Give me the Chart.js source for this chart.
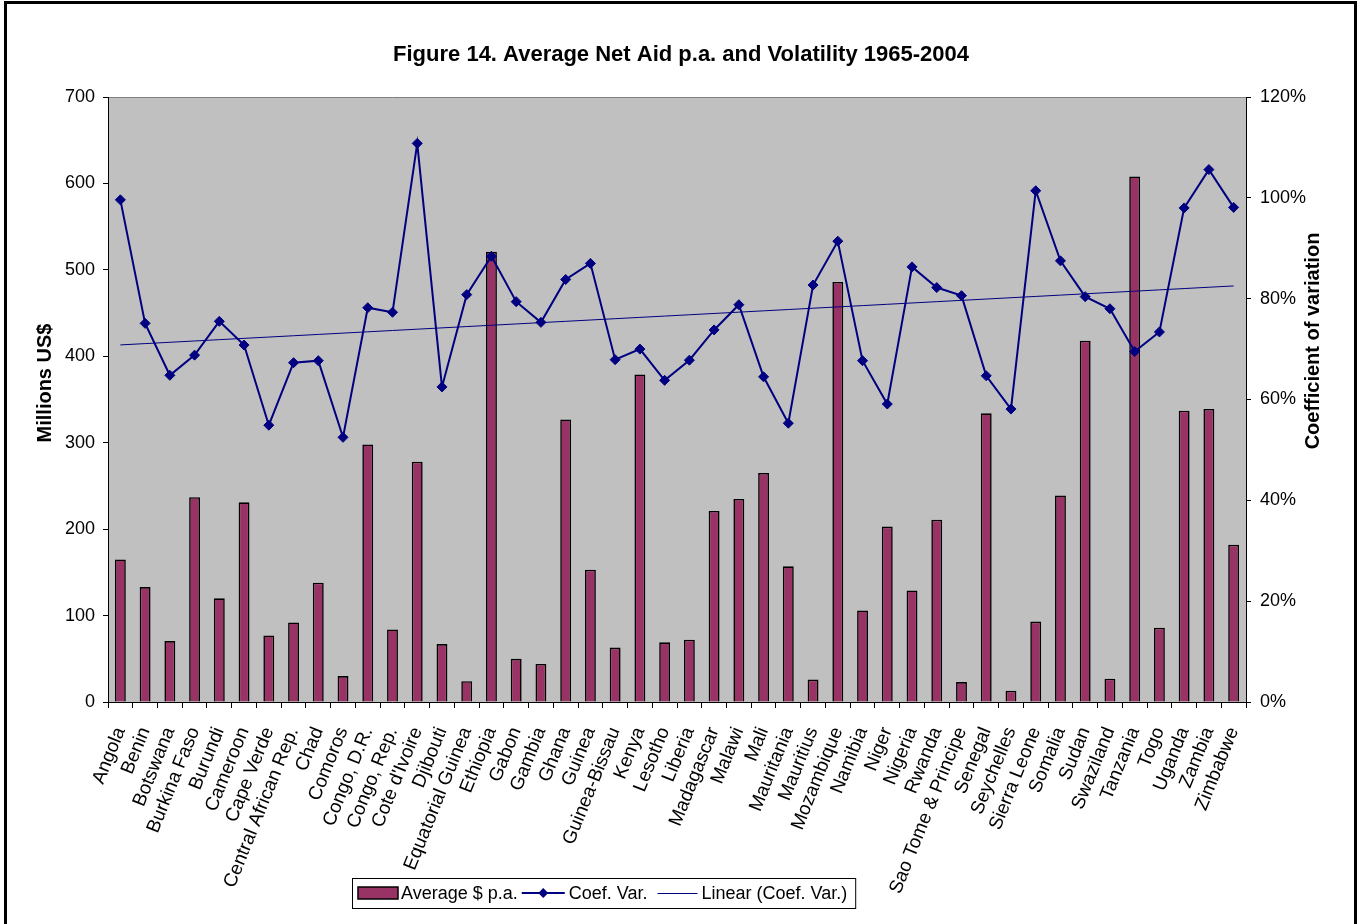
<!DOCTYPE html>
<html><head><meta charset="utf-8">
<script src="https://cdn.jsdelivr.net/npm/chart.js@4.4.1/dist/chart.umd.min.js"></script>
<style>
html,body{margin:0;padding:0;background:#fff;overflow:hidden;}
#wrap{position:relative;width:1362px;height:924px;}
canvas{position:absolute;left:0;top:0;}
#frame{position:absolute;left:4px;top:1px;width:1353px;height:1000px;border:3px solid #000;box-sizing:border-box;pointer-events:none;}
</style></head><body>
<div id="wrap"><canvas id="c" width="1362" height="924"></canvas><div id="frame"></div></div>
<script>
const countries = ["Angola","Benin","Botswana","Burkina Faso","Burundi","Cameroon","Cape Verde","Central African Rep.","Chad","Comoros","Congo, D.R.","Congo, Rep.","Cote d'Ivoire","Djibouti","Equatorial Guinea","Ethiopia","Gabon","Gambia","Ghana","Guinea","Guinea-Bissau","Kenya","Lesotho","Liberia","Madagascar","Malawi","Mali","Mauritania","Mauritius","Mozambique","Namibia","Niger","Nigeria","Rwanda","Sao Tome & Principe","Senegal","Seychelles","Sierra Leone","Somalia","Sudan","Swaziland","Tanzania","Togo","Uganda","Zambia","Zimbabwe"];
const averageAid = [165,133,70.5,237,120,231,77,92,138,30,298,84,278,67,24,521,50,44,327,153,63,379,69,72,221,235,265,157,26,486,106,203,129,211,23,334,13,93,239,418,27,608,86,337,339,182];
const coefVar = [99.6,75.1,64.8,68.8,75.5,70.8,54.9,67.3,67.7,52.5,78.2,77.3,110.8,62.5,80.8,88.4,79.4,75.3,83.8,87.0,67.9,70.0,63.8,67.8,73.8,78.8,64.5,55.3,82.7,91.4,67.7,59.1,86.3,82.2,80.6,64.7,58.1,101.4,87.5,80.4,78.0,69.5,73.4,98.0,105.6,98.1];
const leftTicksMax = 700, leftTickStep = 100;
const rightTicksMax = 120, rightTickStep = 20;
const titleText = "Figure 14. Average Net Aid p.a. and Volatility 1965-2004";
const leftAxisTitle = "Millions US$";
const rightAxisTitle = "Coefficient of variation";
const seriesNames = ["Average $ p.a.", "Coef. Var.", "Linear (Coef. Var.)"];

function linearFit(vals){
  const n = vals.length; let sx=0, sy=0, sxy=0, sxx=0;
  vals.forEach((v,i)=>{ sx+=i; sy+=v; sxy+=i*v; sxx+=i*i; });
  const b = (n*sxy - sx*sy)/(n*sxx - sx*sx);
  const a = (sy - b*sx)/n;
  return vals.map((_,i)=>a+b*i);
}
const trend = linearFit(coefVar);

const FONT = 'Arial, "Liberation Sans", sans-serif';
Chart.defaults.font.family = FONT;
Chart.defaults.color = '#000';

const NAVY = '#000080', MAROON = '#993366';

const bgPlugin = {
  id: 'bg',
  beforeDraw(chart){
    const {ctx, chartArea: a} = chart;
    ctx.save();
    ctx.fillStyle = '#C0C0C0';
    ctx.fillRect(a.left, a.top, a.right - a.left, a.bottom - a.top);
    ctx.strokeStyle = '#808080'; ctx.lineWidth = 1;
    ctx.beginPath(); ctx.moveTo(a.left, a.top + 0.5); ctx.lineTo(a.right, a.top + 0.5); ctx.stroke();
    ctx.restore();
  },
  afterDraw(chart){
    const {ctx} = chart;
    ctx.save();
    ctx.fillStyle = '#000';
    ctx.font = 'bold 20px ' + FONT;
    ctx.textAlign = 'center'; ctx.textBaseline = 'middle';
    ctx.translate(45, 383); ctx.rotate(-Math.PI/2); ctx.fillText(leftAxisTitle, 0, 0);
    ctx.restore();
    ctx.save();
    ctx.fillStyle = '#000';
    ctx.font = 'bold 20px ' + FONT;
    ctx.textAlign = 'center'; ctx.textBaseline = 'middle';
    ctx.translate(1313, 341); ctx.rotate(-Math.PI/2); ctx.fillText(rightAxisTitle, 0, 0);
    ctx.restore();

    // legend
    const ds = chart.data.datasets;
    ctx.save();
    ctx.font = '18px ' + FONT;
    ctx.textBaseline = 'middle'; ctx.textAlign = 'left';
    const y = 893;
    const boxL = 352, boxT = 878, boxB = 908;
    let x = boxL + 6;
    const w0 = ctx.measureText(ds[0].label).width;
    const w1 = ctx.measureText(ds[1].label).width;
    const w2 = ctx.measureText(ds[2].label).width;
    const boxR = x + 40 + 3 + w0 + 4 + 43 + 4 + w1 + 10 + 40 + 4 + w2 + 8;
    ctx.fillStyle = '#fff';
    ctx.fillRect(boxL, boxT, boxR - boxL, boxB - boxT);
    ctx.strokeStyle = '#000'; ctx.lineWidth = 1;
    ctx.strokeRect(boxL + 0.5, boxT + 0.5, boxR - boxL, boxB - boxT);
    ctx.fillStyle = ds[0].backgroundColor; ctx.fillRect(x, y - 6, 40, 12);
    ctx.lineWidth = 1.5; ctx.strokeStyle = '#000'; ctx.strokeRect(x, y - 6, 40, 12);
    x += 43;
    ctx.fillStyle = '#000'; ctx.fillText(ds[0].label, x, y + 1); x += w0 + 4;
    ctx.strokeStyle = ds[1].borderColor; ctx.lineWidth = 2;
    ctx.beginPath(); ctx.moveTo(x, y); ctx.lineTo(x + 43, y); ctx.stroke();
    ctx.fillStyle = ds[1].borderColor;
    const cx = x + 21.5;
    ctx.beginPath(); ctx.moveTo(cx - 5, y); ctx.lineTo(cx, y - 5); ctx.lineTo(cx + 5, y); ctx.lineTo(cx, y + 5); ctx.closePath(); ctx.fill();
    x += 47;
    ctx.fillStyle = '#000'; ctx.fillText(ds[1].label, x, y + 1); x += w1 + 10;
    ctx.strokeStyle = ds[2].borderColor; ctx.lineWidth = 1;
    ctx.beginPath(); ctx.moveTo(x, y + 0.5); ctx.lineTo(x + 40, y + 0.5); ctx.stroke();
    x += 44;
    ctx.fillStyle = '#000'; ctx.fillText(ds[2].label, x, y + 1);
    ctx.restore();
  }
};

new Chart(document.getElementById('c'), {
  type: 'bar',
  data: {
    labels: countries,
    datasets: [
      { type: 'bar', label: seriesNames[0], data: averageAid, yAxisID: 'y',
        backgroundColor: MAROON, borderColor: '#000', borderWidth: 1.6,
        barPercentage: 0.44, categoryPercentage: 1, order: 3 },
      { type: 'line', label: seriesNames[1], data: coefVar, yAxisID: 'y1',
        borderColor: NAVY, backgroundColor: NAVY, borderWidth: 2,
        pointStyle: 'rectRot', pointRadius: 5, pointBorderWidth: 1, pointBackgroundColor: NAVY, pointBorderColor: NAVY,
        tension: 0, fill: false, order: 1 },
      { type: 'line', label: seriesNames[2], data: trend, yAxisID: 'y1',
        borderColor: NAVY, backgroundColor: NAVY, borderWidth: 1, pointRadius: 0,
        tension: 0, fill: false, order: 2 }
    ]
  },
  options: {
    responsive: false, animation: false, devicePixelRatio: 1,
    layout: { padding: 0 },
    plugins: {
      legend: { display: false },
      tooltip: { enabled: false },
      title: { display: true, text: titleText, color: '#000',
        font: { size: 22, weight: 'bold', family: FONT, lineHeight: 1.2 },
        padding: { top: 42, bottom: 28.6 } }
    },
    scales: {
      x: {
        offset: true,
        grid: { offset: true, drawOnChartArea: false, drawTicks: true, tickLength: 6, color: '#000', lineWidth: 1 },
        border: { display: true, color: '#000', width: 1 },
        ticks: { autoSkip: false, minRotation: 68, maxRotation: 68, font: { size: 19 }, color: '#000', padding: 16 },
        afterFit(s){ s.height = 222; }
      },
      y: {
        position: 'left', min: 0, max: leftTicksMax,
        ticks: { stepSize: leftTickStep, font: { size: 18 }, color: '#000', padding: 8 },
        grid: { drawOnChartArea: false, tickLength: 5, color: '#000' },
        border: { display: true, color: '#000', width: 1 },
        afterFit(s){ s.width = 108; }
      },
      y1: {
        position: 'right', min: 0, max: rightTicksMax,
        ticks: { stepSize: rightTickStep, font: { size: 18 }, color: '#000', padding: 9, callback: v => v + '%' },
        grid: { drawOnChartArea: false, tickLength: 5, color: '#000' },
        border: { display: true, color: '#000', width: 1 },
        afterFit(s){ s.width = 116; }
      }
    }
  },
  plugins: [bgPlugin]
});
</script>
</body></html>
